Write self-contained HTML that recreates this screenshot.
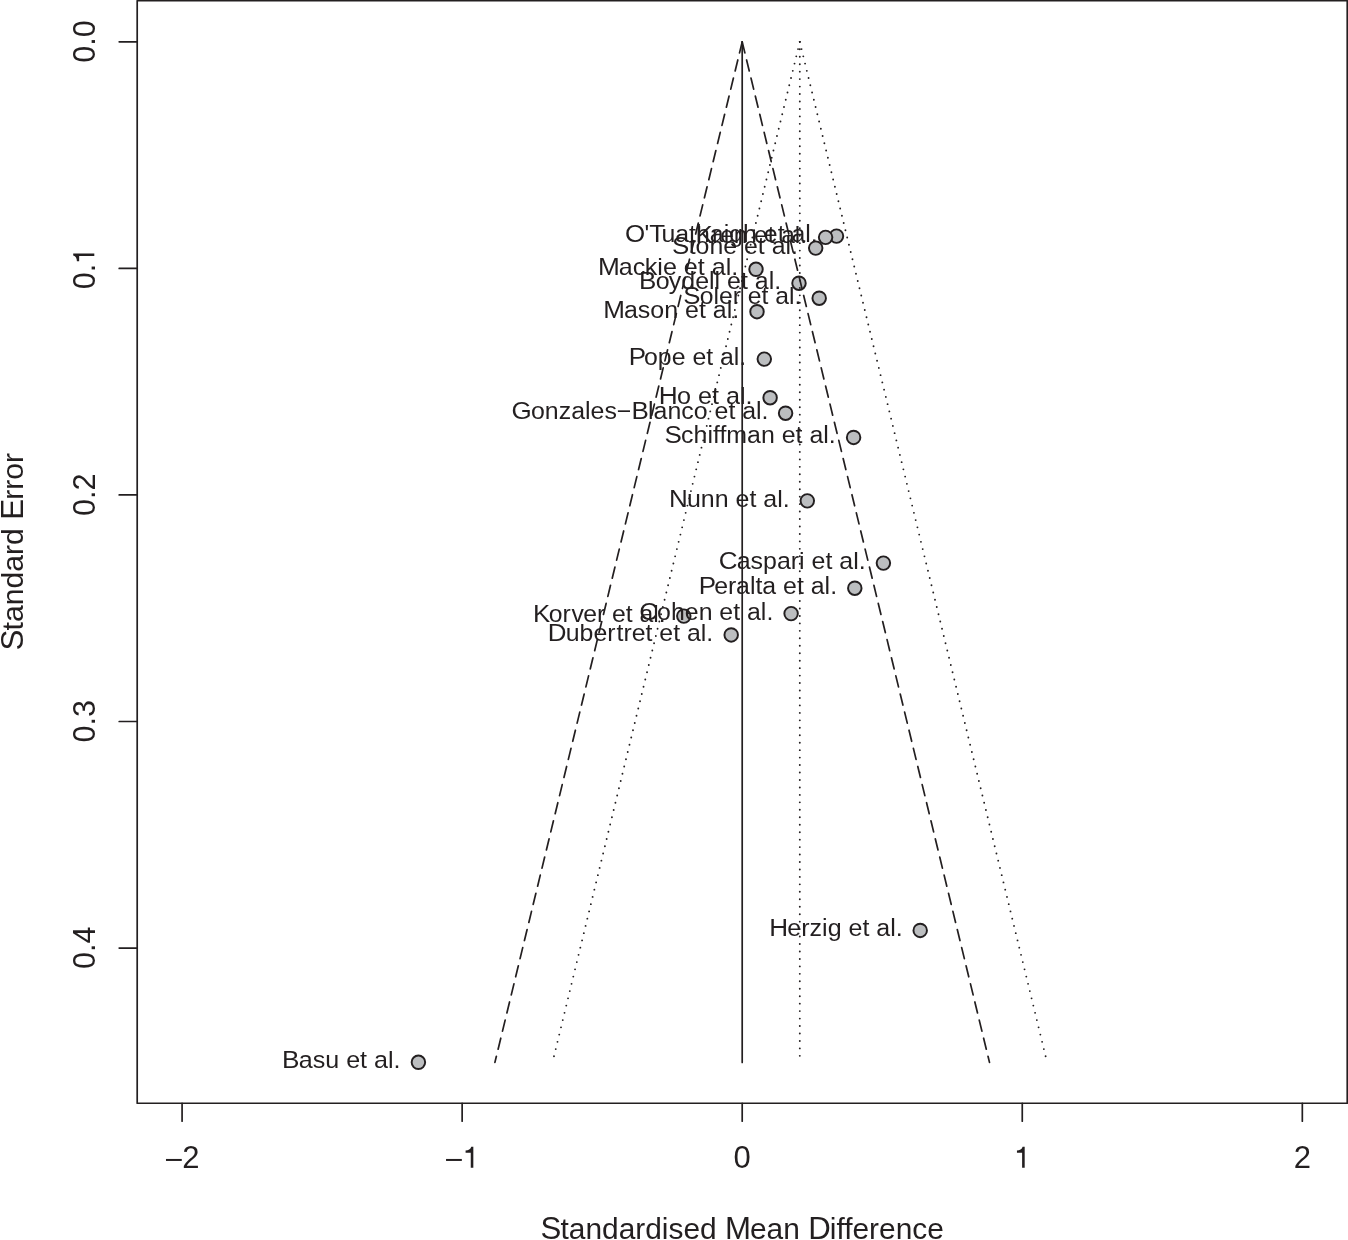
<!DOCTYPE html><html><head><meta charset="utf-8"><title>Funnel plot</title><style>html,body{margin:0;padding:0;background:#fff}svg{display:block;will-change:transform}text{font-family:"Liberation Sans",sans-serif;fill:#231f20}</style></head><body>
<svg width="1348" height="1240" viewBox="0 0 1348 1240">
<rect width="1348" height="1240" fill="#fff"/>
<g fill="#bcbec0" stroke="#231f20" stroke-width="1.95">
<circle cx="836.5" cy="236.1" r="6.75"/>
<circle cx="825.6" cy="237.35" r="6.75"/>
<circle cx="815.7" cy="248.1" r="6.75"/>
<circle cx="756.0" cy="269.3" r="6.75"/>
<circle cx="799.0" cy="283.2" r="6.75"/>
<circle cx="819.2" cy="298.2" r="6.75"/>
<circle cx="757.0" cy="311.65" r="6.75"/>
<circle cx="764.3" cy="359.1" r="6.75"/>
<circle cx="770.1" cy="397.7" r="6.75"/>
<circle cx="785.6" cy="413.2" r="6.75"/>
<circle cx="853.6" cy="437.4" r="6.75"/>
<circle cx="807.3" cy="500.85" r="6.75"/>
<circle cx="883.4" cy="563.1" r="6.75"/>
<circle cx="854.8" cy="588.2" r="6.75"/>
<circle cx="791.1" cy="613.6" r="6.75"/>
<circle cx="683.8" cy="616.1" r="6.75"/>
<circle cx="731.2" cy="634.9" r="6.75"/>
<circle cx="920.2" cy="930.4" r="6.75"/>
<circle cx="418.4" cy="1062.3" r="6.75"/>
</g>
<g fill="none" stroke="#231f20" stroke-width="1.7">
<line x1="742.2" y1="41.84" x2="742.2" y2="1062.4" stroke-linecap="round"/>
<line x1="742.2" y1="41.84" x2="494.91" y2="1062.4" stroke-dasharray="11.348 7.292" stroke-linecap="round"/>
<line x1="742.2" y1="41.84" x2="989.49" y2="1062.4" stroke-dasharray="11.348 7.292" stroke-linecap="round"/>
<g stroke-linecap="round" stroke-width="1.9" stroke-dasharray="0 7.456">
<line x1="799.8" y1="41.84" x2="799.8" y2="1062.4"/>
<line x1="799.8" y1="41.84" x2="552.51" y2="1062.4"/>
<line x1="799.8" y1="41.84" x2="1047.09" y2="1062.4"/>
</g>
<rect x="137.2" y="0.75" width="1210.05" height="1102.5" stroke-linejoin="round"/>
<line x1="182.08" y1="1103.25" x2="182.08" y2="1121.25" stroke-linecap="round"/>
<line x1="462.14" y1="1103.25" x2="462.14" y2="1121.25" stroke-linecap="round"/>
<line x1="742.20" y1="1103.25" x2="742.20" y2="1121.25" stroke-linecap="round"/>
<line x1="1022.26" y1="1103.25" x2="1022.26" y2="1121.25" stroke-linecap="round"/>
<line x1="1302.32" y1="1103.25" x2="1302.32" y2="1121.25" stroke-linecap="round"/>
<line x1="137.2" y1="41.84" x2="119.19999999999999" y2="41.84" stroke-linecap="round"/>
<line x1="137.2" y1="268.40" x2="119.19999999999999" y2="268.40" stroke-linecap="round"/>
<line x1="137.2" y1="494.96" x2="119.19999999999999" y2="494.96" stroke-linecap="round"/>
<line x1="137.2" y1="721.52" x2="119.19999999999999" y2="721.52" stroke-linecap="round"/>
<line x1="137.2" y1="948.08" x2="119.19999999999999" y2="948.08" stroke-linecap="round"/>
</g>
<g font-size="31" text-anchor="middle">
<rect x="165.98" y="1158.95" width="15.8" height="2.0" fill="#231f20"/>
<text x="190.84" y="1167.85">2</text>
<rect x="446.04" y="1158.95" width="15.8" height="2.0" fill="#231f20"/>
<path transform="translate(462.56 1167.85) scale(.03 -.03)" d="M359 0H273V505H101V580C195 582 264 615 290 703H359Z" fill="#231f20"/>
<text x="742.20" y="1167.85">0</text>
<path transform="translate(1013.92 1167.85) scale(.03 -.03)" d="M359 0H273V505H101V580C195 582 264 615 290 703H359Z" fill="#231f20"/>
<text x="1302.32" y="1167.85">2</text>
<text font-size="30.6" transform="translate(95.2 41.54) rotate(-90)">0.0</text>
<g transform="translate(94.3 268.40) rotate(-90)"><text x="4.55" y="0.9" font-size="30.6" text-anchor="end">0.</text><path transform="translate(4.17 0.00) scale(.03 -.03)" d="M359 0H273V505H101V580C195 582 264 615 290 703H359Z" fill="#231f20"/></g>
<text font-size="30.6" transform="translate(95.2 494.66) rotate(-90)">0.2</text>
<text font-size="30.6" transform="translate(95.2 721.22) rotate(-90)">0.3</text>
<text font-size="30.6" transform="translate(95.2 947.78) rotate(-90)">0.4</text>
</g>
<g font-size="29.9" text-anchor="middle">
<text x="742.2" y="1238.5"><tspan font-size="31.19">S</tspan><tspan dx="-0.86">t</tspan>andardised <tspan font-size="31.19">M</tspan><tspan dx="-1.07">e</tspan>an <tspan font-size="31.19">D</tspan><tspan dx="-0.93">i</tspan>fference</text>
<text font-size="30.15" transform="translate(23 551.7) rotate(-90)"><tspan font-size="31.45">S</tspan><tspan dx="-0.86">t</tspan>andard <tspan font-size="31.45">E</tspan><tspan dx="-0.86">r</tspan>ror</text>
</g>
<g font-size="25" text-anchor="end">
<text transform="translate(817.74 242.05) scale(0.9958 .945)"><tspan font-size="26.07">O</tspan><tspan dx="-0.84">&#39;</tspan><tspan font-size="26.07">T</tspan><tspan dx="-3.66">u</tspan>athaigh et al.</text>
<text transform="translate(807.00 243.30) scale(0.9772 .945)"><tspan font-size="26.07">K</tspan><tspan dx="-0.72">r</tspan>en et al.</text>
<text transform="translate(797.94 254.05) scale(0.9959 .945)"><tspan font-size="26.07">S</tspan><tspan dx="-0.72">t</tspan>one et al.</text>
<text transform="translate(738.26 275.25) scale(1.0044 .945)"><tspan font-size="26.07">M</tspan><tspan dx="-0.90">a</tspan>c<tspan dx="-0.50">k</tspan>ie et al.</text>
<text transform="translate(781.15 289.15) scale(0.9986 .945)"><tspan font-size="26.07">B</tspan><tspan dx="-0.72">o</tspan><tspan dx="-0.75">y</tspan>dell et al.</text>
<text transform="translate(801.42 304.15) scale(0.9888 .945)"><tspan font-size="26.07">S</tspan><tspan dx="-0.72">o</tspan>ler et al.</text>
<text transform="translate(739.15 317.60) scale(0.9996 .945)"><tspan font-size="26.07">M</tspan><tspan dx="-0.90">a</tspan>son et al.</text>
<text transform="translate(746.24 365.05) scale(0.9943 .945)"><tspan font-size="26.07">P</tspan><tspan dx="-1.97">o</tspan>pe et al.</text>
<text transform="translate(752.52 403.65) scale(1.0079 .945)"><tspan font-size="26.07">H</tspan><tspan dx="-0.78">o</tspan> et al.</text>
<text transform="translate(768.54 419.15) scale(0.9974 .945)"><tspan font-size="26.07">G</tspan><tspan dx="-0.84">o</tspan>nzales−<tspan font-size="26.07">B</tspan><tspan dx="-0.72">l</tspan>anco et al.</text>
<text transform="translate(835.74 443.35) scale(0.9973 .945)"><tspan font-size="26.07">S</tspan><tspan dx="-0.72">c</tspan>hiffman et al.</text>
<text transform="translate(789.65 506.80) scale(0.9983 .945)"><tspan font-size="26.07">N</tspan><tspan dx="-0.78">u</tspan>nn et al.</text>
<text transform="translate(865.65 569.05) scale(0.9983 .945)"><tspan font-size="26.07">C</tspan><tspan dx="-0.78">a</tspan>spari et al.</text>
<text transform="translate(837.04 594.15) scale(0.9955 .945)"><tspan font-size="26.07">P</tspan><tspan dx="-1.97">e</tspan>r<tspan dx="-0.25">a</tspan>lta et al.</text>
<text transform="translate(773.29 619.55) scale(0.9954 .945)"><tspan font-size="26.07">C</tspan><tspan dx="-0.78">o</tspan>hen et al.</text>
<text transform="translate(665.73 622.05) scale(0.9911 .945)"><tspan font-size="26.07">K</tspan><tspan dx="-1.72">o</tspan>r<tspan dx="0.75">v</tspan><tspan dx="-0.62">e</tspan>r et al.</text>
<text transform="translate(713.24 640.85) scale(0.9944 .945)"><tspan font-size="26.07">D</tspan><tspan dx="-0.78">u</tspan>ber<tspan dx="1.00">t</tspan>ret et al.</text>
<text transform="translate(902.75 936.35) scale(1.0008 .945)"><tspan font-size="26.07">H</tspan><tspan dx="-0.78">e</tspan>rzig et al.</text>
<text transform="translate(400.56 1068.25) scale(1.0040 .945)"><tspan font-size="26.07">B</tspan><tspan dx="-0.72">a</tspan>su et al.</text>
</g>
</svg></body></html>
